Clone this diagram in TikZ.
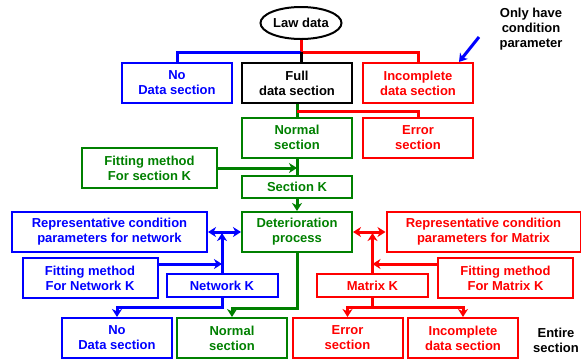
\documentclass[tikz,border=0pt]{standalone}
\usepackage{fontspec}
\setmainfont{Liberation Sans}
\usepackage{xcolor}
\usepackage{tikz}
\usetikzlibrary{arrows.meta, shapes.geometric}

\definecolor{grn}{RGB}{0,128,0}

\tikzset{
  txt/.style={font=\bfseries\fontsize{13}{15}\selectfont, align=center},
  box/.style={txt, draw, line width=2pt, inner sep=0pt, minimum width=110pt, minimum height=40pt},
  flow/.style={line width=3pt},
  >={Stealth[length=8pt,width=10pt,inset=2.5pt]}
}

\begin{document}
\begin{tikzpicture}[x=1pt, y=-1pt]
    \useasboundingbox (0,0) rectangle (581,360);

    \node[txt, ellipse, draw, line width=2pt, inner sep=0pt, minimum width=81pt, minimum height=32pt] (law) at (301,23) {Law data};
    \coordinate (split) at (301,52);

    % the 110 x 40 boxes
    \foreach \nm/\x/\y/\cc/\ta/\tb in {
        nodataA/177/83/blue/No/Data section,
        fullA/297/83/black/Full/data section,
        incompA/418/83/red/Incomplete/data section,
        normalA/297/137.5/grn/Normal/section,
        errorA/418/137.5/red/Error/section,
        deter/297/232/grn/Deterioration/process,
        nodataB/117/338/blue/No/Data section,
        normalB/232/338/grn/Normal/section,
        errorB/347.5/338/red/Error/section,
        incompB/463/338/red/Incomplete/data section
    }{
        \node[box, draw=\cc, text=\cc] (\nm) at (\x,\y) {\ta\\\tb};
    }

    \node[box, draw=grn, text=grn, minimum width=135pt] (fitsec) at (149.5,168) {Fitting method\\For section K};
    \node[box, draw=grn, text=grn, minimum height=22pt] (secK) at (297,187) {Section K};

    \node[box, draw=blue, text=blue, minimum width=195pt] (repnet) at (109.5,232) {Representative condition\\parameters for network};
    \node[box, draw=blue, text=blue, minimum width=135pt] (fitnet) at (90,278) {Fitting method\\For Network K};
    \node[box, draw=blue, text=blue, minimum width=111pt, minimum height=23pt] (netK) at (222,285.5) {Network K};

    \node[box, draw=red, text=red, minimum width=194pt] (repmat) at (483.5,232) {Representative condition\\parameters for Matrix};
    \node[box, draw=red, text=red, minimum width=135pt] (fitmat) at (505.5,278) {Fitting method\\For Matrix K};
    \node[box, draw=red, text=red, minimum width=111pt, minimum height=23pt] (matK) at (372.5,285.5) {Matrix K};

    \node[txt] (onlynote) at (531,29) {Only have\\condition\\parameter};
    \node[txt] (entirenote) at (556,340) {Entire\\section};
    \coordinate (onlytail) at (479,37);

    % top split
    \draw[flow, red] (law.south) -- (split);
    \draw[flow, blue] (split) -| (nodataA.north);
    \draw[flow, red] (split) -| (incompA.north);
    \draw[flow, black] (split) -- (split |- fullA.north);
    \draw[flow, grn] (fullA.south) -- (normalA.north);
    \draw[flow, red] (fullA.south) ++(0,7) -| (errorA.north);
    \draw[flow, blue, ->] (onlytail) -- ([xshift=-15pt]incompA.north east);

    % section K
    \draw[flow, grn] (normalA.south) -- (secK.north);
    \draw[flow, grn, ->] (fitsec.east) -- (fitsec.east -| secK.north);
    \draw[flow, grn, ->] (secK.south) -- (deter.north);

    % network side
    \draw[flow, blue, <->] (repnet.east) -- (deter.west);
    \draw[flow, blue, ->, shorten >=1pt] (netK.north) -- (netK.north |- repnet.east);
    \draw[flow, blue, ->] ([yshift=14pt]fitnet.east) -- ([yshift=14pt]fitnet.east -| netK.north);
    \draw[flow, blue, ->] (netK.south) -- ++(0,9) -| (nodataB.north);

    % matrix side
    \draw[flow, red, <->] (deter.east) -- (repmat.west);
    \draw[flow, red, ->, shorten >=1pt] (matK.north) -- (matK.north |- repmat.west);
    \draw[flow, red, ->] ([yshift=14pt]fitmat.west) -- ([yshift=14pt]fitmat.west -| matK.north);
    \draw[flow, red] (matK.south) -- ++(0,9) coordinate (matsplit);
    \draw[flow, red, ->] (matsplit) -| (errorB.north);
    \draw[flow, red, ->] (matsplit) -| (incompB.north);

    % normal path
    \draw[flow, grn, ->] (deter.south) -- ++(0,55) -| (normalB.north);
\end{tikzpicture}
\end{document}
